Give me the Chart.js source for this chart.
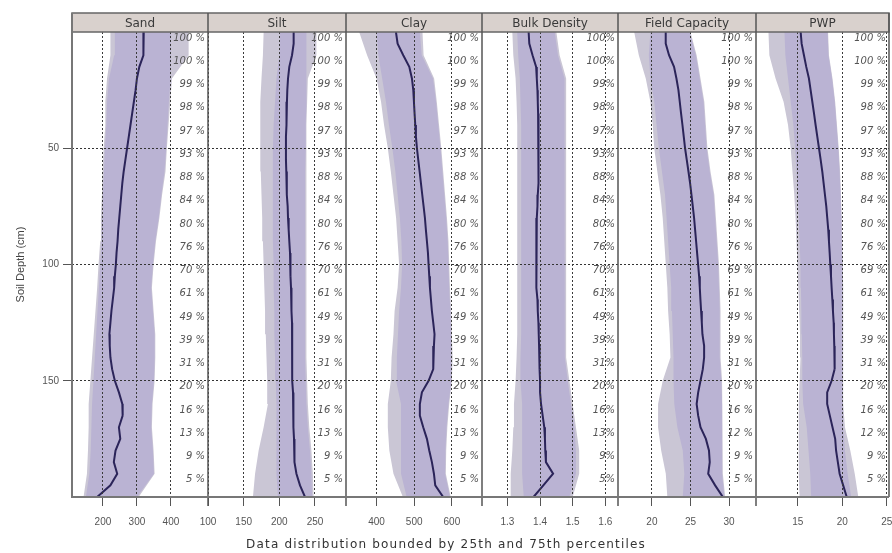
<!DOCTYPE html>
<html>
<head>
<meta charset="utf-8">
<script src="https://cdn.jsdelivr.net/npm/chart.js@4.4.1/dist/chart.umd.min.js"></script>
<style>
  body { margin: 0; background: #fff; }
  #wrap { width: 892px; height: 553px; }
</style>
</head>
<body>
<div id="wrap"><canvas id="profile" width="892" height="553"></canvas></div>
<script>
// depth steps (cm) for the median lines and for the percentile bands
var depth5 = [0,5,10,15,20,25,30,35,40,45,50,55,60,65,70,75,80,85,90,95,100,105,110,115,120,125,130,135,140,145,150,155,160,165,170,175,180,185,190,195,200];
var depth10 = [0,10,20,30,40,50,60,70,80,90,100,110,120,130,140,150,160,170,180,190,200];
var depthTicks = [50, 100, 150];

var panels = ['Sand', 'Silt', 'Clay', 'Bulk Density', 'Field Capacity', 'PWP'];
var xTitle = 'Data distribution bounded by 25th and 75th percentiles';

// medians
var sandMedian = [320,320,318,307,300,296,291,286,281,276,271,266,261,257,254,251,248,245,243,240,238,235,233,229,225,222,219,220,222,227,235,247,257,258,247,251,237,232,242,222,183];
var siltMedian = [220.1,220.1,217.8,214.0,212.2,211.2,210.7,210.3,209.8,209.3,209.3,209.3,209.8,210.3,210.7,211.7,212.2,213.1,214.0,215.0,215.4,215.9,216.4,216.8,217.3,217.8,217.8,217.8,217.8,218.2,218.7,219.2,219.6,219.6,220.1,220.6,221.0,221.5,224,229,236];
var clayMedian = [451.6,456,471,487,494,497.6,499.3,501,502.9,504.6,507.3,510.8,514.4,517.9,521.4,525,528.5,531,533.8,536.5,538.2,540,541.8,544.4,547,550.6,554,552.4,550.6,550.6,538.2,520.5,515,515,524,533.8,540,547,552.4,555.9,577];
var bdMedian = [1.365,1.367,1.377,1.388,1.390,1.392,1.393,1.394,1.395,1.396,1.396,1.396,1.395,1.394,1.393,1.392,1.390,1.389,1.388,1.388,1.388,1.389,1.390,1.392,1.393,1.395,1.396,1.397,1.398,1.399,1.400,1.400,1.403,1.408,1.413,1.415,1.416,1.418,1.440,1.410,1.380];
var fcMedian = [21.79,21.79,22.22,22.87,23.18,23.44,23.61,23.78,23.96,24.13,24.30,24.52,24.74,24.95,25.13,25.30,25.47,25.60,25.73,25.86,25.99,26.12,26.21,26.29,26.38,26.47,26.55,26.77,26.77,26.6,26.3,26.0,25.8,26.0,26.3,27.0,27.4,27.5,27.3,28.2,29.2];
var pwpMedian = [15.32,15.43,15.69,15.95,16.25,16.44,16.63,16.82,17.0,17.19,17.38,17.57,17.75,17.9,18.05,18.2,18.31,18.42,18.5,18.58,18.65,18.73,18.8,18.88,18.95,19.03,19.06,19.1,19.18,19.1,18.8,18.3,18.3,18.6,18.9,19.2,19.3,19.5,19.7,20.1,20.5];

// 25th - 75th percentile bands (outer light edge, inner core)
var sandOuterLo = [222,222,212,207,207,202,199,197,194,192,187,183,178,173,168,163,158,158,156,153,143];
var sandOuterHi = [452,452,403,398,393,388,384,374,366,356,349,344,349,354,354,352,346,344,349,352,305];
var sandInnerLo = [235,233,218,212,210,206,203,200,198,196,192,188,184,180,176,172,168,166,164,160,150];
var sandInnerHi = [400,400,398,394,390,386,381,372,364,354,347,342,347,352,352,350,344,342,347,350,300];

var siltOuterLo = [178,177,175,174,173,173,174,175,176,177,178,179,180,181,182,183,184,178,171,166,163];
var siltOuterHi = [252,252,240,239,238,238,238,238,238,238,238,238,238,238,238,239,240,242,245,247,248];
var siltInnerLo = [201,200,196,194,192,191,191,191,191,191,192,192,193,193,194,195,196,196,196,196,198];
var siltInnerHi = [238,238,238,238,237,237,236,236,236,236,236,236,236,236,236,237,238,240,243,245,246];

var clayOuterLo = [354,375,400,412,420,430,438,445,452,456,460,456,448,445,440,438,430,430,434,445,470];
var clayOuterHi = [522,525,553,560,566,572,577,582,587,591,593,595,598,600,602,600,593,588,585,584,597];
var clayInnerLo = [400,405,415,425,433,442,450,456,462,466,468,465,460,457,454,452,465,465,465,465,480];
var clayInnerHi = [515,520,550,558,564,570,575,580,585,589,591,593,596,598,600,598,591,586,583,582,595];

var bdOuterLo = [1.315,1.318,1.325,1.328,1.33,1.33,1.33,1.33,1.33,1.33,1.33,1.33,1.33,1.33,1.328,1.325,1.32,1.318,1.315,1.31,1.31];
var bdOuterHi = [1.45,1.46,1.48,1.48,1.48,1.48,1.48,1.48,1.48,1.48,1.48,1.48,1.48,1.48,1.48,1.49,1.5,1.51,1.52,1.52,1.5];
var bdInnerLo = [1.33,1.333,1.338,1.34,1.342,1.342,1.342,1.342,1.342,1.342,1.342,1.342,1.342,1.342,1.34,1.34,1.345,1.345,1.345,1.345,1.35];
var bdInnerHi = [1.445,1.455,1.475,1.476,1.476,1.476,1.476,1.476,1.476,1.476,1.476,1.476,1.476,1.476,1.476,1.485,1.495,1.505,1.51,1.51,1.49];

var fcOuterLo = [17.7,18.3,19.2,19.8,20.1,20.3,20.7,21.1,21.4,21.6,21.8,22.0,22.1,22.3,22.4,21.4,20.8,20.8,21.2,21.8,22.0];
var fcOuterHi = [25.0,25.8,26.3,26.8,27.0,27.2,27.6,28.1,28.3,28.5,28.7,28.8,28.9,28.9,28.9,29.1,29.2,29.2,29.2,29.2,29.5];
var fcInnerLo = [19.8,19.6,19.8,20.3,20.6,20.9,21.3,21.7,21.9,22.1,22.3,22.5,22.6,22.7,22.8,22.8,22.9,23.3,24.0,24.2,24.0];
var fcInnerHi = [24.9,25.7,26.2,26.7,26.9,27.1,27.5,28.0,28.2,28.4,28.6,28.7,28.8,28.8,28.8,29.0,29.1,29.1,29.1,29.1,29.4];

var pwpOuterLo = [11.7,11.8,12.5,13.4,13.9,14.2,14.4,14.6,14.75,14.85,14.95,15.05,15.15,15.25,15.3,15.2,15.1,15.1,15.1,15.1,15.2];
var pwpOuterHi = [18.4,18.5,18.9,19.2,19.4,19.6,19.75,19.85,19.95,20.0,20.05,20.1,20.1,20.1,20.1,20.1,20.1,20.3,20.9,21.4,21.8];
var pwpInnerLo = [13.5,13.6,13.9,14.2,14.5,14.7,14.85,15.0,15.1,15.2,15.3,15.35,15.4,15.45,15.5,15.5,15.6,16.0,16.2,16.4,16.5];
var pwpInnerHi = [18.35,18.45,18.85,19.15,19.35,19.55,19.7,19.8,19.9,19.95,20.0,20.05,20.05,20.05,20.05,20.05,20.05,20.1,20.3,20.6,21.0];

// x axis ticks per panel
var sandTicks = [200, 300, 400];
var siltTicks = [100, 150, 200, 250];
var clayTicks = [400, 500, 600];
var bdTicks = [1.3, 1.4, 1.5, 1.6];
var fcTicks = [20, 25, 30];
var pwpTicks = [15, 20, 25];

// share of profiles reaching each depth
var pctDepths = [0,10,20,30,40,50,60,70,80,90,100,110,120,130,140,150,160,170,180,190];
var pctSoil = [100,100,99,98,97,93,88,84,80,76,70,61,49,39,31,20,16,13,9,5];
var pctWater = [100,100,99,98,97,93,88,84,80,76,69,61,49,39,31,20,16,12,9,5];

var medians = [sandMedian, siltMedian, clayMedian, bdMedian, fcMedian, pwpMedian];
var outerLo = [sandOuterLo, siltOuterLo, clayOuterLo, bdOuterLo, fcOuterLo, pwpOuterLo];
var outerHi = [sandOuterHi, siltOuterHi, clayOuterHi, bdOuterHi, fcOuterHi, pwpOuterHi];
var innerLo = [sandInnerLo, siltInnerLo, clayInnerLo, bdInnerLo, fcInnerLo, pwpInnerLo];
var innerHi = [sandInnerHi, siltInnerHi, clayInnerHi, bdInnerHi, fcInnerHi, pwpInnerHi];
var tickSets = [sandTicks, siltTicks, clayTicks, bdTicks, fcTicks, pwpTicks];
var pctSets = [pctSoil, pctSoil, pctSoil, pctSoil, pctWater, pctWater];

var ranges = [[109, 509], [100, 293.5], [319, 680], [1.222, 1.639], [15.6, 33.5], [10.3, 25.25]];
var widths = [136, 138, 136, 136, 138, 133];

var outerColor = '#cac6d5';
var innerColor = '#bab3d3';
var lineColor = '#2b2459';
var labelFont = { family: 'Liberation Sans', size: 10 };

function pts(vals, depths) {
  return vals.map(function (v, i) { return { x: v, y: depths[i] }; });
}

// order: higher is painted first, so outer band < inner band < median line
var datasets = [];
panels.forEach(function (name, i) {
  var ax = 'x' + i;
  function band(lo, hi, color, order) {
    var base = { xAxisID: ax, yAxisID: 'y', pointRadius: 0, borderWidth: 0, tension: 0, order: order };
    datasets.push(Object.assign({ label: name + ' lo', data: pts(lo, depth10), fill: false }, base));
    datasets.push(Object.assign({ label: name + ' hi', data: pts(hi, depth10), fill: '-1', backgroundColor: color }, base));
  }
  band(outerLo[i], outerHi[i], outerColor, 3);
  band(innerLo[i], innerHi[i], innerColor, 2);
  datasets.push({ label: name + ' median', data: pts(medians[i], depth5), xAxisID: ax, yAxisID: 'y', order: 1,
    fill: false, pointRadius: 0, borderWidth: 2, borderColor: lineColor, tension: 0 });
});

var scales = {
  y: {
    type: 'linear', position: 'left', reverse: true, min: 0, max: 200,
    afterBuildTicks: function (s) { s.ticks = depthTicks.map(function (v) { return { value: v }; }); },
    afterFit: function (s) { s.width = 72; },
    ticks: { color: '#555', font: labelFont, padding: 4 },
    grid: { color: '#333', lineWidth: 1, tickLength: 9, tickColor: '#555', z: 1 },
    border: { display: false, dash: [2, 2] },
    title: { display: true, text: 'Soil Depth (cm)', color: '#444',
      font: { family: 'Liberation Sans', size: 11 }, padding: { top: 14, bottom: 0 } }
  }
};
panels.forEach(function (name, i) {
  scales['x' + i] = {
    type: 'linear', position: 'bottom', stack: 'panels', stackWeight: widths[i],
    min: ranges[i][0], max: ranges[i][1],
    afterBuildTicks: function (s) { s.ticks = tickSets[i].map(function (v) { return { value: v }; }); },
    // fixed height, and no extra side padding for edge labels
    afterFit: function (s) { s.height = 41; s.paddingLeft = 0; s.paddingRight = 0; },
    ticks: { color: '#555', font: labelFont, padding: 10, autoSkip: false, maxRotation: 0,
      callback: function (v) { return String(Math.round(v * 100) / 100); } },
    grid: { color: '#3a3a3a', lineWidth: 1, tickLength: 9, tickColor: '#555', z: 1 },
    border: { display: false, dash: [2, 2] }
  };
});

// strip headers, panel frames, percentage column and bottom title
var panelDecor = {
  id: 'panelDecor',
  afterDraw: function (chart) {
    var ctx = chart.ctx;
    var area = chart.chartArea;
    var yS = chart.scales.y;
    ctx.save();

    ctx.font = 'italic 10px "DejaVu Sans"';
    ctx.fillStyle = '#555';
    ctx.textAlign = 'right';
    ctx.textBaseline = 'top';
    panels.forEach(function (name, i) {
      var s = chart.scales['x' + i];
      var sep = (i === 3) ? '%' : ' %';
      pctSets[i].forEach(function (v, k) {
        ctx.fillText(v + sep, s.right - 3, yS.getPixelForValue(pctDepths[k]) + 1);
      });
    });

    // header strips
    var top = 13;
    panels.forEach(function (name, i) {
      var s = chart.scales['x' + i];
      ctx.fillStyle = '#d9d1cd';
      ctx.fillRect(s.left, top, s.right - s.left, area.top - top);
      ctx.fillStyle = '#3a3a3a';
      ctx.font = '12px "DejaVu Sans"';
      ctx.textAlign = 'center';
      ctx.textBaseline = 'middle';
      ctx.fillText(name, (s.left + s.right) / 2, (top + area.top) / 2 + 1);
    });
    ctx.strokeStyle = '#666';
    ctx.lineWidth = 1.5;
    ctx.strokeRect(area.left, top, area.right - area.left, area.top - top);

    // panel separators
    ctx.strokeStyle = '#555';
    ctx.lineWidth = 1.5;
    panels.forEach(function (name, i) {
      var s = chart.scales['x' + i];
      ctx.beginPath();
      ctx.moveTo(s.right, top);
      ctx.lineTo(s.right, area.bottom + (i < panels.length - 1 ? 9 : 0));
      ctx.stroke();
    });

    // outer frame: left and bottom
    ctx.strokeStyle = '#777';
    ctx.lineWidth = 2;
    ctx.beginPath();
    ctx.moveTo(area.left, top);
    ctx.lineTo(area.left, area.bottom);
    ctx.lineTo(area.right, area.bottom);
    ctx.stroke();

    // x title
    ctx.font = '12px "DejaVu Sans"';
    ctx.letterSpacing = '1.2px';
    ctx.fillStyle = '#333';
    ctx.textAlign = 'center';
    ctx.textBaseline = 'middle';
    ctx.fillText(xTitle, chart.width / 2, 545);
    ctx.restore();
  }
};

var chart = new Chart(document.getElementById('profile'), {
  type: 'line',
  data: { datasets: datasets },
  options: {
    responsive: false,
    animation: false,
    indexAxis: 'y',
    layout: { padding: { top: 32, right: 3, left: 0, bottom: 15 } },
    scales: scales,
    plugins: {
      legend: { display: false },
      tooltip: { enabled: false }
    }
  },
  plugins: [panelDecor]
});
</script>
</body>
</html>
